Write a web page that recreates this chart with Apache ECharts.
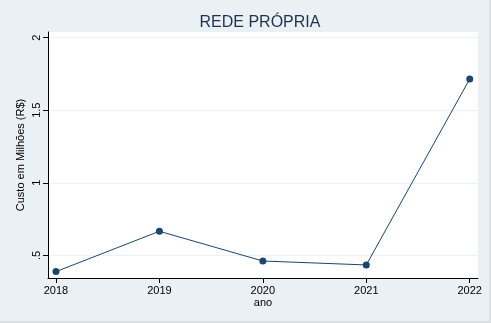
<!DOCTYPE html>
<html>
<head>
<meta charset="utf-8">
<script src="https://cdn.jsdelivr.net/npm/echarts@6/dist/echarts.min.js"></script>
<style>
  html, body { margin: 0; padding: 0; background: #eaf0f3; }
  #chart { width: 491px; height: 323px; }
</style>
</head>
<body>
<div id="chart"></div>
<script>
// Custo anual da rede própria (milhões de R$)
const years = [2018, 2019, 2020, 2021, 2022];
const costs = [0.388, 0.666, 0.461, 0.434, 1.715];
const yTicks = [0.5, 1, 1.5, 2];
const yTickLabels = ['.5', '1', '1.5', '2'];

const navy = '#1a476f';
const font = '"Liberation Sans", Arial, sans-serif';

const chart = echarts.init(document.getElementById('chart'), null, { renderer: 'canvas' });

chart.setOption({
  animation: false,
  backgroundColor: '#eaf0f3',
  title: {
    text: 'REDE PRÓPRIA',
    left: 255,
    top: 10,
    textAlign: 'center',
    textStyle: { fontFamily: font, fontSize: 16, fontWeight: 'normal', color: '#1e3350' }
  },
  grid: { left: 48, right: 13, top: 32, bottom: 45, containLabel: false,
          show: true, backgroundColor: '#ffffff', borderWidth: 0 },
  xAxis: {
    type: 'value',
    min: 2017.923,
    max: 2022.08,
    interval: 1,
    name: 'ano',
    nameLocation: 'middle',
    nameGap: 19,
    nameMoveOverlap: false,
    nameTextStyle: { fontFamily: font, fontSize: 11, color: '#000' },
    axisLine: { show: true, lineStyle: { color: '#000', width: 1 } },
    axisTick: { show: true, length: 5, lineStyle: { color: '#000' },
                customValues: years },
    axisLabel: { fontFamily: font, fontSize: 11, color: '#000', margin: 7,
                 customValues: years, formatter: v => String(v) },
    splitLine: { show: false }
  },
  yAxis: {
    type: 'value',
    min: 0.344,
    max: 2.039,
    name: 'Custo em Milhões (R$)',
    nameLocation: 'middle',
    nameGap: 22,
    nameMoveOverlap: false,
    nameTextStyle: { fontFamily: font, fontSize: 11, color: '#000' },
    axisLine: { show: true, lineStyle: { color: '#000', width: 1 } },
    axisTick: { show: true, length: 5, lineStyle: { color: '#000' }, customValues: yTicks },
    axisLabel: {
      fontFamily: font, fontSize: 11, color: '#000', rotate: 90, margin: 6,
      customValues: yTicks,
      formatter: v => yTickLabels[yTicks.indexOf(Math.round(v * 10) / 10)] || ''
    },
    splitLine: { show: true, lineStyle: { color: '#eaf2f3', width: 1 } }
  },
  series: [{
    type: 'line',
    data: years.map((y, i) => [y, costs[i]]),
    symbol: 'circle',
    symbolSize: 7,
    itemStyle: { color: navy },
    lineStyle: { color: navy, width: 1 }
  }],
  graphic: [
    { type: 'rect', shape: { x: 489, y: 0, width: 2, height: 323 },
      style: { fill: '#d8e0e3' }, silent: true },
    { type: 'rect', shape: { x: 0, y: 321, width: 491, height: 2 },
      style: { fill: '#d8e0e3' }, silent: true }
  ]
});
</script>
</body>
</html>
